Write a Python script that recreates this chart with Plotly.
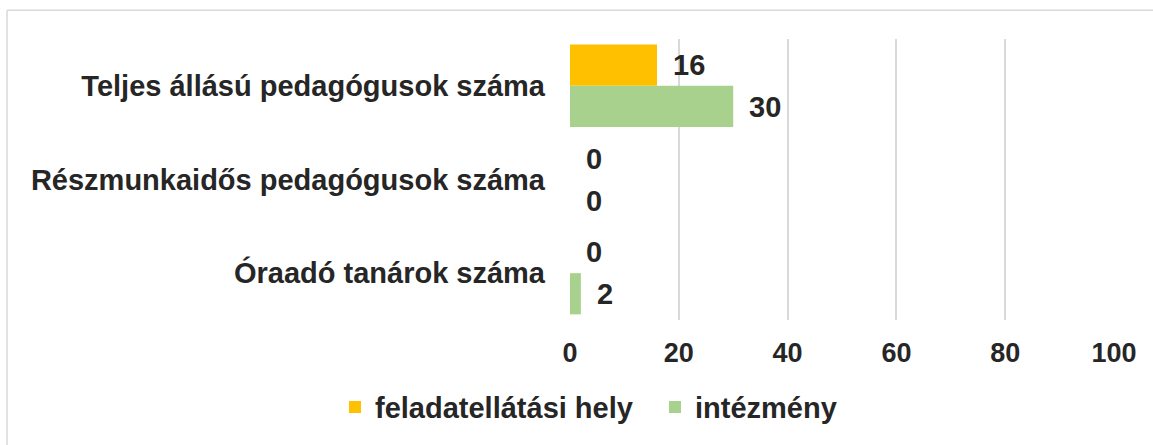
import plotly.graph_objects as go

categories = ["Teljes állású pedagógusok száma", "Részmunkaidős pedagógusok száma", "Óraadó tanárok száma"]
series_names = ["feladatellátási hely", "intézmény"]
feladatellatasi_hely = [16, 0, 0]
intezmeny = [30, 0, 2]
x_ticks = [0, 20, 40, 60, 80, 100]

colors = ["#FFC000", "#A9D18E"]
text_color = "#262626"
font_family = "Liberation Sans, Arial, sans-serif"
FS = 29

fig = go.Figure()
for name, vals, col in zip(series_names, [feladatellatasi_hely, intezmeny], colors):
    fig.add_trace(go.Bar(
        y=categories, x=vals, name=name, orientation="h",
        marker=dict(color=col, line=dict(width=0)),
    ))

# data labels
for vals, ys in [(feladatellatasi_hely, 21), (intezmeny, -21)]:
    for c, v in zip(categories, vals):
        fig.add_annotation(
            x=v, y=c, text=str(v), showarrow=False, xanchor="left", yanchor="middle",
            xshift=14, yshift=ys,
            font=dict(family=font_family, size=FS, color=text_color, weight="bold"),
        )

L, R, T, B = 570, 1114, 39, 323
W, H = 1153, 445
pw, ph = R - L, B - T

fig.update_layout(
    width=W, height=H,
    margin=dict(l=L, r=W - R, t=T, b=H - B, pad=0),
    plot_bgcolor="white", paper_bgcolor="white",
    barmode="group", bargap=0.12, bargroupgap=0,
    font=dict(family=font_family, size=FS, color=text_color, weight="bold"),
    showlegend=True,
    legend=dict(
        orientation="h", x=(335 - L) / pw, xanchor="left", y=(B - 411) / ph, yanchor="middle",
        font=dict(family=font_family, size=FS, color=text_color, weight="bold"),
        traceorder="normal", itemwidth=30, entrywidth=275, bgcolor="rgba(0,0,0,0)",
    ),
    xaxis=dict(
        range=[0, 100], tickvals=x_ticks, showgrid=True, gridcolor="#D9D9D9", gridwidth=1.5,
        zeroline=False, showline=False, ticks="", ticklabelstandoff=14,
        tickfont=dict(family=font_family, size=FS - 2, color=text_color, weight="bold"),
        fixedrange=True,
    ),
    yaxis=dict(
        autorange="reversed", showgrid=False, zeroline=False, showline=False, ticks="",
        ticklabelstandoff=24,
        tickfont=dict(family=font_family, size=FS, color=text_color, weight="bold"),
    ),
    shapes=[
        dict(type="line", xref="paper", yref="paper", x0=(7 - L) / pw, x1=(W + 5 - L) / pw,
             y0=(B - 10) / ph, y1=(B - 10) / ph, line=dict(color="#D9D9D9", width=1.5)),
        dict(type="line", xref="paper", yref="paper", x0=(7 - L) / pw, x1=(7 - L) / pw,
             y0=(B - 10) / ph, y1=(B - H - 5) / ph, line=dict(color="#D9D9D9", width=1.5)),
    ],
)

fig.write_html(
    "out.html",
    config={"displayModeBar": False},
    post_script="document.body.style.margin='0';document.body.style.overflow='hidden';",
)
